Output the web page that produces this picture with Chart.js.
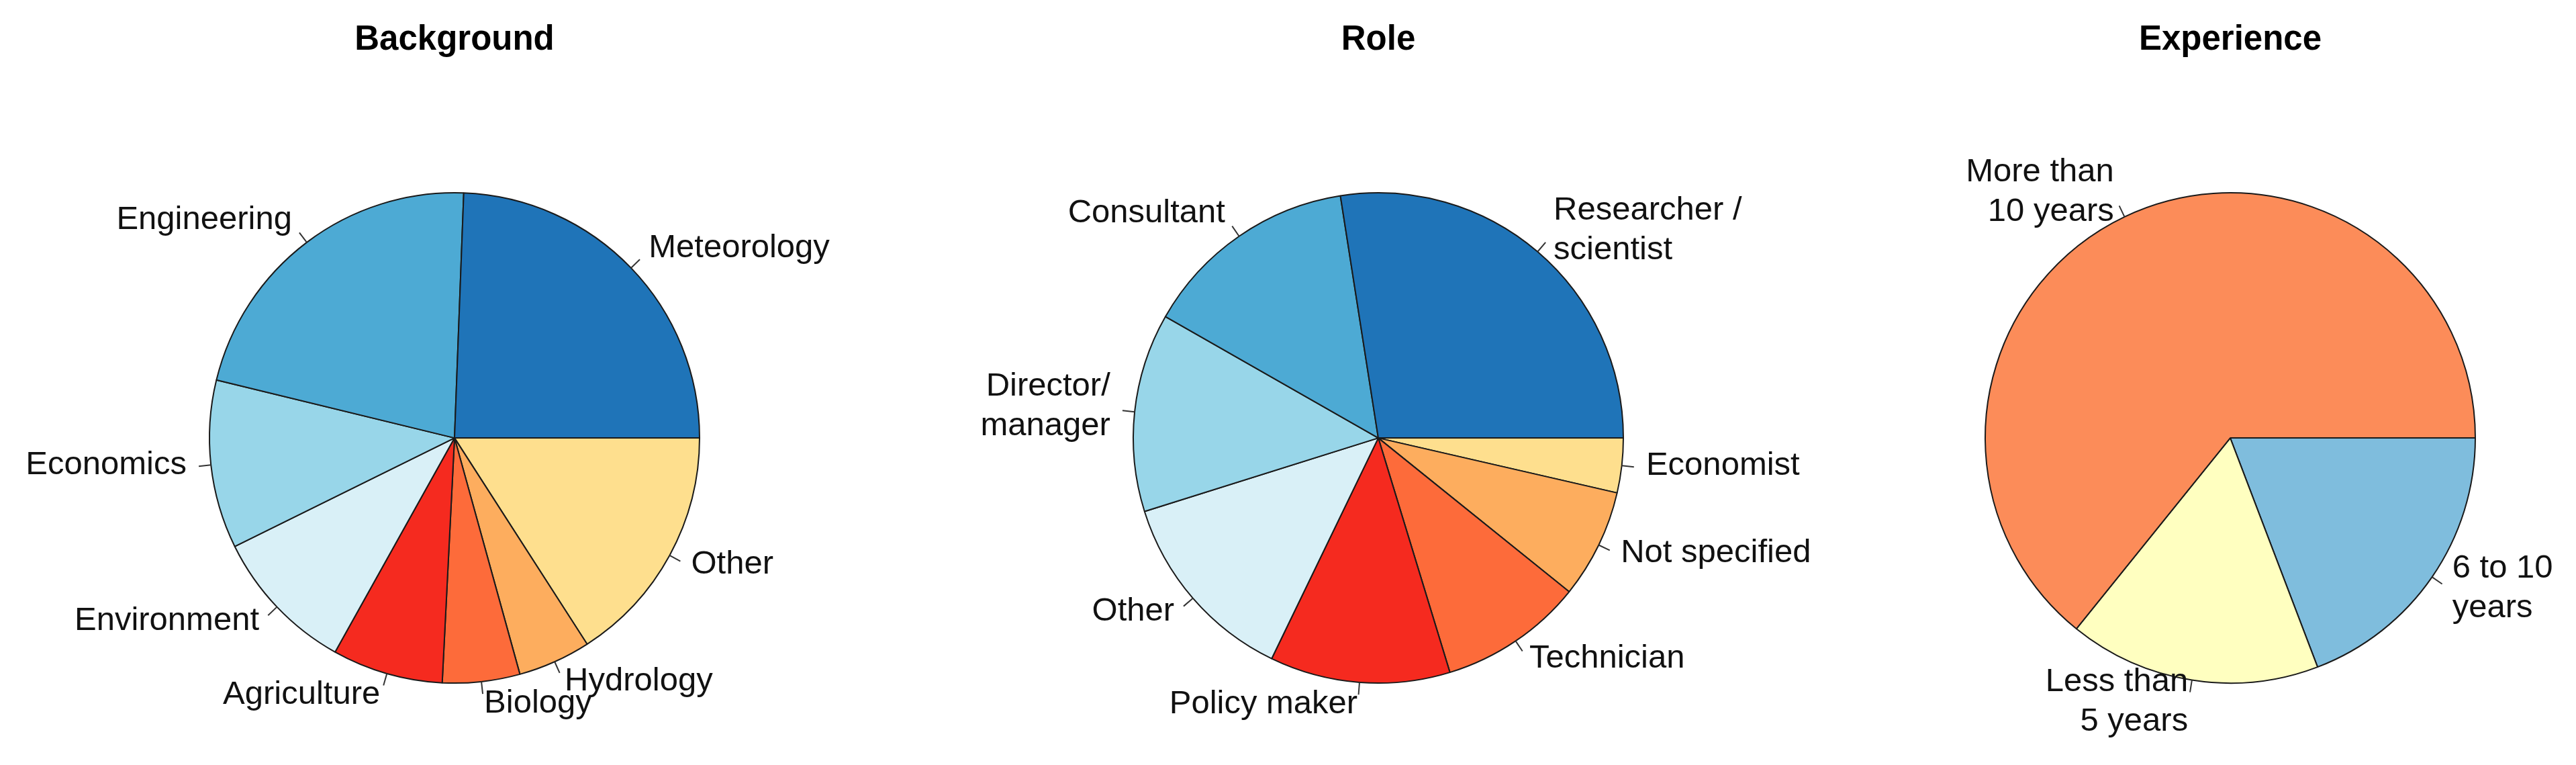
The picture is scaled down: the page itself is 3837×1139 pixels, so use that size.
<!DOCTYPE html>
<html>
<head>
<meta charset="utf-8">
<script src="https://cdn.jsdelivr.net/npm/chart.js@4/dist/chart.umd.min.js"></script>
<style>
    body { margin: 0; background: #fff; }
    .wrap { position: relative; width: 3837px; height: 1139px; }
    .box { position: absolute; top: 0; height: 1139px; }
</style>
</head>
<body>
<div class="wrap">
    <div class="box" style="left: 0; width: 1354px;"><canvas id="chartBackground"></canvas></div>
    <div class="box" style="left: 1353px; width: 1400px;"><canvas id="chartRole"></canvas></div>
    <div class="box" style="left: 2807px; width: 1030px;"><canvas id="chartExperience"></canvas></div>
</div>
<script>
// Data (share of respondents, %)
const backgroundLabels = ["Meteorology", "Engineering", "Economics", "Environment", "Agriculture", "Biology", "Hydrology", "Other"];
const backgroundValues = [24.4, 21.8, 11.1, 9.6, 7.3, 5.1, 4.8, 15.9];

const roleLabels = [["Researcher /", "scientist"], "Consultant", ["Director/", "manager"], "Other", "Policy maker", "Technician", "Not specified", "Economist"];
const roleValues = [27.5, 14.3, 13.1, 13.0, 11.9, 9.5, 7.2, 3.6];

const experienceLabels = [["More than", "10 years"], ["Less than", "5 years"], ["6 to 10", "years"]];
const experienceValues = [64.2, 16.6, 19.2];

const eightColors = ["#1f74b8", "#4daad4", "#98d6e9", "#d9f0f7", "#f52a1f", "#fd6b3a", "#fdad5e", "#fedf8e"];
const threeColors = ["#fc8c59", "#ffffc0", "#7fbddd"];

const fontFamily = "'Liberation Sans', Arial, sans-serif";
const labelSize = 49;

// R style labels: tick from r to 1.05r, text at 1.1r
const pieLabels = {
    id: "pieLabels",
    afterDatasetsDraw(chart) {
        const ctx = chart.ctx;
        const meta = chart.getDatasetMeta(0);
        ctx.save();
        ctx.font = `${labelSize}px ${fontFamily}`;
        ctx.fillStyle = "#111";
        ctx.strokeStyle = "#333";
        ctx.lineWidth = 2;
        ctx.textBaseline = "middle";
        meta.data.forEach((arc, i) => {
            const { x, y, startAngle, endAngle, outerRadius } = arc.getProps(["x", "y", "startAngle", "endAngle", "outerRadius"], true);
            const mid = (startAngle + endAngle) / 2;
            const cx = Math.cos(mid);
            const cy = Math.sin(mid);
            ctx.beginPath();
            ctx.moveTo(x + cx * outerRadius, y + cy * outerRadius);
            ctx.lineTo(x + cx * outerRadius * 1.05, y + cy * outerRadius * 1.05);
            ctx.stroke();

            let lines = chart.data.labels[i];
            if (!Array.isArray(lines)) lines = [lines];
            const lineHeight = labelSize * 1.2;
            const tx = x + cx * outerRadius * 1.1;
            const ty = y + cy * outerRadius * 1.1 - 4;
            ctx.textAlign = cx < 0 ? "right" : "left";
            lines.forEach((line, j) => {
                ctx.fillText(line, tx, ty + (j - (lines.length - 1) / 2) * lineHeight);
            });
        });
        ctx.restore();
    }
};

// R draws counter-clockwise from 3 o'clock, Chart.js clockwise: reverse order, start at east
const makePie = (id, title, labels, values, colors) => {
    new Chart(document.querySelector(id), {
        type: "pie",
        data: {
            labels: labels.slice().reverse(),
            datasets: [
                {
                    data: values.slice().reverse(),
                    backgroundColor: colors.slice().reverse(),
                    borderColor: "#1a1a1a",
                    borderWidth: 2
                }
            ]
        },
        options: {
            responsive: true,
            maintainAspectRatio: false,
            animation: false,
            rotation: 90,
            radius: 365,
            layout: { padding: 0 },
            plugins: {
                legend: { display: false },
                tooltip: { enabled: false },
                title: {
                    display: true,
                    text: title,
                    color: "#000",
                    font: { family: fontFamily, size: 51, weight: "bold" },
                    padding: { top: 29, bottom: 75 }
                }
            }
        },
        plugins: [pieLabels]
    });
};

makePie("#chartBackground", "Background", backgroundLabels, backgroundValues, eightColors);
makePie("#chartRole", "Role", roleLabels, roleValues, eightColors);
makePie("#chartExperience", "Experience", experienceLabels, experienceValues, threeColors);
</script>
</body>
</html>
